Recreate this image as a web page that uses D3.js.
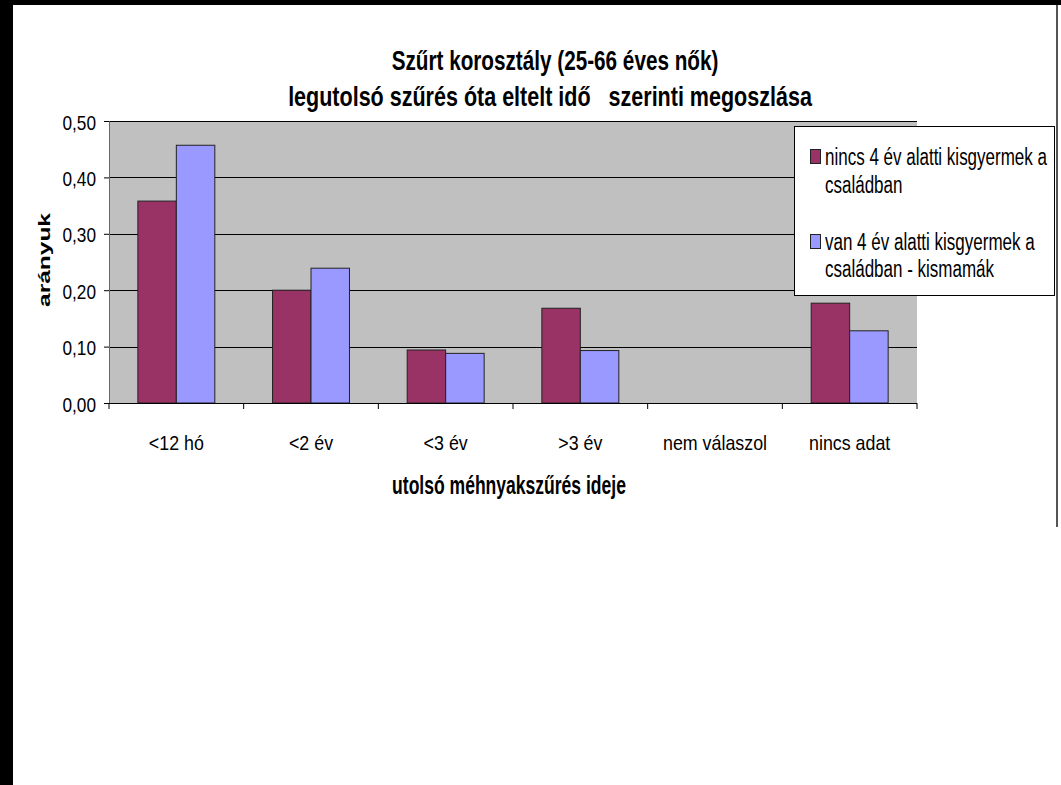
<!DOCTYPE html>
<html><head><meta charset="utf-8">
<script src="https://cdn.jsdelivr.net/npm/d3@7"></script>
<style>body{margin:0;background:#fff}svg{display:block}text{font-family:"Liberation Sans",Arial,sans-serif}</style>
</head><body><svg id="c" width="1061" height="785"></svg>
<script>
const categories = ["<12 hó", "<2 év", "<3 év", ">3 év", "nem válaszol", "nincs adat"];
const seriesNames = ["nincs 4 év alatti kisgyermek a|családban", "van 4 év alatti kisgyermek a|családban - kismamák"];
const nincs = [0.358, 0.200, 0.094, 0.168, 0, 0.177];
const van = [0.457, 0.239, 0.088, 0.093, 0, 0.128];
const yTicks = [0, 0.1, 0.2, 0.3, 0.4, 0.5];
const colors = ["#993366", "#9999FF"];
const titleLines = ["Szűrt korosztály (25-66 éves nők)", "legutolsó szűrés óta eltelt idő   szerinti megoszlása"];
const yTitle = "arányuk";
const xTitle = "utolsó méhnyakszűrés ideje";

const svg = d3.select("#c");
const L = 109, R = 917, T = 121, B = 403;
const x = d3.scaleBand().domain(categories).range([L, R]).paddingInner(0).paddingOuter(0);
const xs = d3.scaleBand().domain([0, 1]).range([0, x.bandwidth()]).paddingInner(0).paddingOuter(0.75);
const y = d3.scaleLinear().domain([0, 0.5]).range([B, T]);

function addText(parent, o) {
  const t = parent.append("text").attr("font-size", o.size).attr("font-weight", o.bold ? "bold" : "normal")
    .attr("text-anchor", o.anchor || "start").attr("fill", "#000").style("white-space", "pre").text(o.text);
  const w = t.node().getComputedTextLength();
  const kx = o.width ? o.width / w : (o.sx || 1);
  t.attr("transform", `translate(${o.x},${o.y}) rotate(${o.rotate || 0}) scale(${kx},${o.sy || 1})`);
  return t;
}

// frame
svg.append("rect").attr("x",0).attr("y",0).attr("width",1061).attr("height",5).attr("fill","#000");
svg.append("rect").attr("x",0).attr("y",0).attr("width",13).attr("height",785).attr("fill","#000");
svg.append("rect").attr("x",1056).attr("y",5).attr("width",2).attr("height",522).attr("fill","#555");

// plot bg
svg.append("rect").attr("x",L).attr("y",T).attr("width",R-L).attr("height",B-T).attr("fill","#C0C0C0");

// gridlines
svg.append("g").selectAll("line").data(yTicks.filter(d=>d>0)).join("line")
  .attr("x1",L).attr("x2",R).attr("y1",d=>Math.round(y(d))+0.5).attr("y2",d=>Math.round(y(d))+0.5).attr("stroke","#000").attr("stroke-width",1);

// bars
const data = categories.map((c,i)=>({c, v:[nincs[i], van[i]]}));
const g = svg.append("g");
data.forEach(d=>{
  d.v.forEach((v,j)=>{
    if (v<=0) return;
    g.append("rect").attr("x", x(d.c)+xs(j)).attr("y", y(v)).attr("width", xs.bandwidth()).attr("height", y(0)-y(v))
      .attr("fill", colors[j]).attr("stroke","#222").attr("stroke-width",1);
  });
});

// y axis
const ya = svg.append("g").attr("transform",`translate(${L},0)`)
  .call(d3.axisLeft(y).tickValues(yTicks).tickSize(5).tickPadding(8).tickFormat(d=>d3.format(".2f")(d).replace(".",",")));
ya.select(".domain").attr("stroke","#666");
ya.selectAll(".tick line").attr("stroke","#000");
ya.selectAll(".tick text").attr("font-size",21).attr("fill","#000").attr("x",0).attr("dy",0)
  .attr("transform","translate(-13,8) scale(0.82,1)");

// x axis
const xa = svg.append("g").attr("transform",`translate(0,${B})`)
  .call(d3.axisBottom(x).tickSize(0).tickPadding(0));
xa.select(".domain").attr("stroke","#000").attr("d",`M${L},0.5H${R}`);
xa.selectAll(".tick text").attr("font-size",21).attr("fill","#000").attr("y",0).attr("dy",0)
  .attr("transform","translate(0,47) scale(0.85,1)");
svg.append("g").selectAll("line").data(categories.map(c=>x(c)).concat([R])).join("line")
  .attr("x1",d=>d).attr("x2",d=>d).attr("y1",B).attr("y2",B+6).attr("stroke","#000");

// titles
addText(svg, {x:555, y:70, text:titleLines[0], size:28, bold:true, anchor:"middle", width:327});
addText(svg, {x:550, y:106, text:titleLines[1], size:27, bold:true, anchor:"middle", width:524});
addText(svg, {x:509, y:494, text:xTitle, size:25, bold:true, anchor:"middle", width:234});
addText(svg, {x:50, y:260, text:yTitle, size:17, bold:true, anchor:"middle", width:94, rotate:-90});

// legend
const lg = svg.append("g");
lg.append("rect").attr("x",794.5).attr("y",126.5).attr("width",260).attr("height",169).attr("fill","#fff").attr("stroke","#000");
const lineY = [[165,193],[250,277]];
let kx = null;
seriesNames.forEach((s,i)=>{
  lg.append("rect").attr("x",810.5).attr("y",lineY[i][0]-15.5).attr("width",10).attr("height",14).attr("fill",colors[i]).attr("stroke","#222");
  s.split("|").forEach((t,k)=>{
    const el = addText(lg, {x:825, y:lineY[i][k], text:t, size:23, sx: kx || 1});
    if (kx === null) {
      kx = 222 / el.node().getComputedTextLength();
      el.attr("transform", `translate(825,${lineY[i][k]}) scale(${kx},1)`);
    }
  });
});
</script></body></html>
